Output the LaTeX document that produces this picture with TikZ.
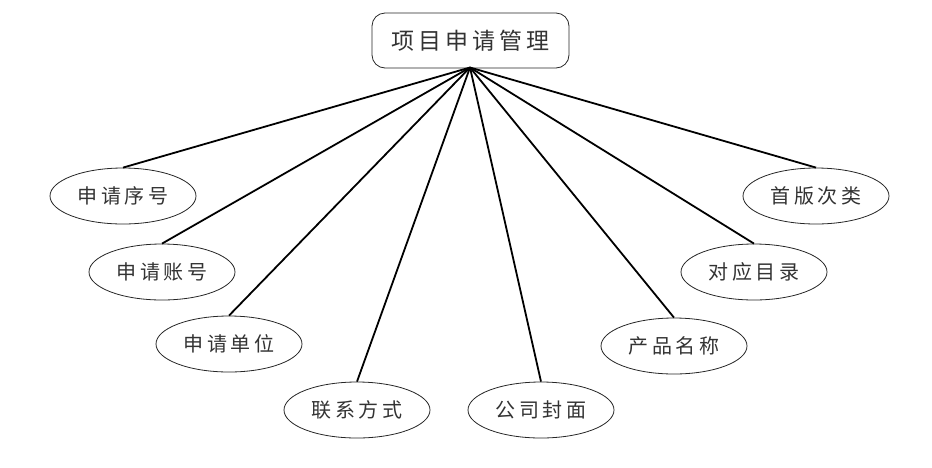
\documentclass[tikz,border=0pt]{standalone}
\usepackage{fontspec}
\newfontfamily\cjk{Noto Sans CJK SC}
\usetikzlibrary{shapes.geometric}
\newcommand\gp{\hskip 3.5pt}
\newcommand\gq{\hskip 4pt}
\begin{document}
\begin{tikzpicture}[x=1pt,y=-1pt,
  attr/.style={ellipse,draw=black!85,line width=0.8pt,fill=white,minimum width=146pt,minimum height=56pt,inner sep=0pt,font=\cjk\fontsize{20}{20}\selectfont,text=black!80},
  topbox/.style={rectangle,rounded corners=13pt,draw=black!85,line width=0.8pt,fill=white,minimum width=197pt,minimum height=55pt,inner sep=0pt,font=\cjk\fontsize{23}{23}\selectfont,text=black!80},
  link/.style={line width=1.8pt,black}]
\useasboundingbox (0,0) rectangle (932,467);
\node[topbox] (top) at (470.5,40.5) {项\gq 目\gq 申\gq 请\gq 管\gq 理};
\coordinate (hub) at (470,67.5);
\node[attr] (a1) at (123,196) {申\gp 请\gp 序\gp 号};
\node[attr] (a2) at (162,272) {申\gp 请\gp 账\gp 号};
\node[attr] (a3) at (229,344) {申\gp 请\gp 单\gp 位};
\node[attr] (a4) at (357,410) {联\gp 系\gp 方\gp 式};
\node[attr] (a5) at (541,410) {公\gp 司\gp 封\gp 面};
\node[attr] (a6) at (674,346) {产\gp 品\gp 名\gp 称};
\node[attr] (a7) at (754,272) {对\gp 应\gp 目\gp 录};
\node[attr] (a8) at (816,196) {首\gp 版\gp 次\gp 类};
\foreach \n in {a1,a2,a3,a4,a5,a6,a7,a8} \draw[link] (hub) -- (\n.north);
\end{tikzpicture}
\end{document}
